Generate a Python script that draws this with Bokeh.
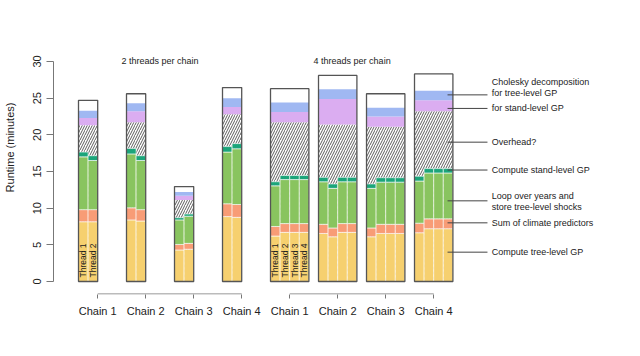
import math
import numpy as np
from bokeh.plotting import figure
from bokeh.models import Range1d, FixedTicker, LinearAxis, ColumnDataSource
from bokeh.core.properties import value
from bokeh.embed import file_html
from bokeh.resources import INLINE

# ---------------- data ----------------
chain_names = ["Chain 1", "Chain 2", "Chain 3", "Chain 4"]
group_titles = ["2 threads per chain", "4 threads per chain"]
threads_per_chain = [2, 4]

# per-thread durations (minutes): [group][chain][thread]
tree_gp = [
    [[8.15, 8.15], [8.4, 8.25], [4.3, 4.4], [8.85, 8.75]],
    [[6.2, 6.7, 6.7, 6.7], [6.55, 6.1, 6.7, 6.7], [6.1, 6.55, 6.55, 6.55], [6.65, 7.2, 7.2, 7.2]],
]
climate_sum = [
    [[1.65, 1.65], [1.65, 1.55], [0.75, 0.8], [1.75, 1.75]],
    [[1.3, 1.2, 1.2, 1.2], [1.25, 1.2, 1.2, 1.2], [1.2, 1.25, 1.25, 1.25], [1.3, 1.35, 1.35, 1.35]],
]
loop_shocks = [
    [[7.2, 6.7], [7.35, 6.7], [3.35, 3.7], [7.05, 7.6]],
    [[5.55, 6.0, 6.0, 6.0], [5.8, 5.4, 5.7, 5.7], [5.4, 5.75, 5.75, 5.75], [5.75, 6.25, 6.25, 6.25]],
]
stand_gp = [
    [[0.65, 0.65], [0.75, 0.65], [0.3, 0.3], [0.75, 0.7]],
    [[0.55, 0.55, 0.55, 0.55], [0.6, 0.6, 0.6, 0.6], [0.6, 0.6, 0.6, 0.6], [0.65, 0.6, 0.6, 0.6]],
]
# per-chain durations (minutes): [group][chain]
overhead = [[3.65, 3.55, 1.9, 4.0], [7.25, 7.2, 6.95, 7.8]]
chol_stand = [[1.0, 1.5, 0.6, 1.0], [1.4, 3.5, 1.4, 1.5]]
chol_tree = [[1.0, 1.1, 0.5, 1.2], [1.3, 1.3, 1.2, 1.3]]
other = [[1.4, 1.3, 0.75, 1.45], [1.9, 1.9, 1.9, 2.3]]

segment_labels = [
    "Cholesky decomposition\nfor tree-level GP",
    "for stand-level GP",
    "Overhead?",
    "Compute stand-level GP",
    "Loop over years and\nstore tree-level shocks",
    "Sum of climate predictors",
    "Compute tree-level GP",
]
leader_y = [25.45, 23.6, 19.0, 15.2, 11.0, 8.0, 4.0]
label_y = [26.4, 23.6, 19.0, 15.2, 10.95, 8.0, 4.0]

y_ticks = [0, 5, 10, 15, 20, 25, 30]

# ---------------- styles ----------------
C_TREE = "#F6D06F"
C_CLIM = "#F89C76"
C_LOOP = "#89C45F"
C_STAND = "#1BA57A"
C_CHOL_S = "#DBADF1"
C_CHOL_T = "#A0B8F2"
FONT = "Liberation Sans"
TXT = "#222222"
AXC = "#777777"

p = figure(width=640, height=356,
           x_range=Range1d(-2.604, 58.54), y_range=Range1d(-1.773, 38.318),
           x_axis_type=None, y_axis_type=None,
           output_backend="svg", toolbar_location=None,
           min_border_left=53, min_border_right=0, min_border_top=0, min_border_bottom=62)
p.outline_line_color = None
p.background_fill_color = "white"

# ---------------- build geometry ----------------
thread_rows = {"l": [], "r": [], "b": [], "t": [], "c": []}
chain_rows = {"l": [], "r": [], "b": [], "t": [], "c": []}
hatch_rows = {"l": [], "r": [], "b": [], "t": []}
outline_rows = {"l": [], "r": [], "b": [], "t": []}
tick_pos = []
tick_labels = {}
tlab = {"x": [], "y": [], "text": []}
title_x = []

for g, nt in enumerate(threads_per_chain):
    title_x.append(g * 20 + 8.5)
    for c, name in enumerate(chain_names):
        start = g * 20 + 5 * c
        tick_pos.append(start + 2)
        tick_labels[start + 2] = name
        tops = []
        for j in range(nt):
            segs = [tree_gp[g][c][j], climate_sum[g][c][j], loop_shocks[g][c][j], stand_gp[g][c][j]]
            cols = [C_TREE, C_CLIM, C_LOOP, C_STAND]
            cum = np.concatenate([[0.0], np.cumsum(segs)])
            for k in range(4):
                thread_rows["l"].append(start + j)
                thread_rows["r"].append(start + j + 1)
                thread_rows["b"].append(cum[k])
                thread_rows["t"].append(cum[k + 1])
                thread_rows["c"].append(cols[k])
            tops.append(cum[-1])
            if c == 0:
                tlab["x"].append(start + j + 0.5)
                tlab["y"].append(0.55)
                tlab["text"].append(f"Thread {j + 1}")
        par_top = max(tops)
        h_top = par_top + overhead[g][c]
        s_top = h_top + chol_stand[g][c]
        t_top = s_top + chol_tree[g][c]
        total = t_top + other[g][c]
        hatch_rows["l"].append(start); hatch_rows["r"].append(start + nt)
        hatch_rows["b"].append(0); hatch_rows["t"].append(h_top)
        for b, t, col in [(h_top, s_top, C_CHOL_S), (s_top, t_top, C_CHOL_T)]:
            chain_rows["l"].append(start); chain_rows["r"].append(start + nt)
            chain_rows["b"].append(b); chain_rows["t"].append(t); chain_rows["c"].append(col)
        outline_rows["l"].append(start); outline_rows["r"].append(start + nt)
        outline_rows["b"].append(0); outline_rows["t"].append(total)

p.quad(left="l", right="r", bottom="b", top="t", source=ColumnDataSource(hatch_rows),
       fill_color="white", line_color=None,
       hatch_pattern="/", hatch_color="#333333", hatch_scale=5, hatch_weight=0.8)
p.quad(left="l", right="r", bottom="b", top="t", fill_color="c", line_color=None,
       source=ColumnDataSource(chain_rows))
p.quad(left="l", right="r", bottom="b", top="t", fill_color="c", line_color="white",
       line_alpha=0.6, line_width=1, source=ColumnDataSource(thread_rows))
p.quad(left="l", right="r", bottom="b", top="t", fill_color=None, line_color="#555555",
       line_width=1.3, source=ColumnDataSource(outline_rows))

# thread labels
p.text(x="x", y="y", text="text", source=ColumnDataSource(tlab), angle=math.pi / 2,
       text_align="left", text_baseline="middle", text_font=value(FONT),
       text_font_size="8.5px", text_color=TXT)

# group titles
p.text(x=title_x, y=[30, 30], text=group_titles, text_align="center", text_baseline="middle",
       text_font=value(FONT), text_font_size="9px", text_color=TXT)

# right-side annotations
p.segment(x0=[38.44] * len(leader_y), x1=[42.6] * len(leader_y), y0=leader_y, y1=leader_y,
          line_color="#444444", line_width=1)
p.text(x=[43.05] * len(label_y), y=label_y, text=segment_labels, text_align="left",
       text_baseline="middle", text_font=value(FONT), text_font_size="9px",
       text_color=TXT, text_line_height=1.1)

# bracket lines under groups
p.segment(x0=[2, 22], x1=[17, 37], y0=[-1.705, -1.705], y1=[-1.705, -1.705],
          line_color=AXC, line_width=1)

# axes
yaxis = LinearAxis(ticker=FixedTicker(ticks=y_ticks), bounds=(0, 30),
                   axis_label="Runtime (minutes)")
yaxis.axis_line_color = AXC
yaxis.major_tick_line_color = AXC
yaxis.minor_tick_line_color = None
yaxis.major_tick_in = 0
yaxis.major_tick_out = 7
yaxis.major_label_orientation = "parallel"
yaxis.major_label_standoff = 5
yaxis.major_label_text_font = FONT
yaxis.major_label_text_font_size = "11px"
yaxis.major_label_text_color = TXT
yaxis.axis_label_text_font = FONT
yaxis.axis_label_text_font_size = "11px"
yaxis.axis_label_text_font_style = "normal"
yaxis.axis_label_text_color = TXT
yaxis.axis_label_standoff = 15
p.add_layout(yaxis, "left")

xaxis = LinearAxis(ticker=FixedTicker(ticks=tick_pos), major_label_overrides=tick_labels)
xaxis.axis_line_color = None
xaxis.major_tick_line_color = AXC
xaxis.minor_tick_line_color = None
xaxis.major_tick_in = 0
xaxis.major_tick_out = 4
xaxis.major_label_standoff = 6
xaxis.major_label_text_font = FONT
xaxis.major_label_text_font_size = "11px"
xaxis.major_label_text_color = TXT
p.add_layout(xaxis, "below")

open("out.html", "w").write(file_html(p, INLINE))
